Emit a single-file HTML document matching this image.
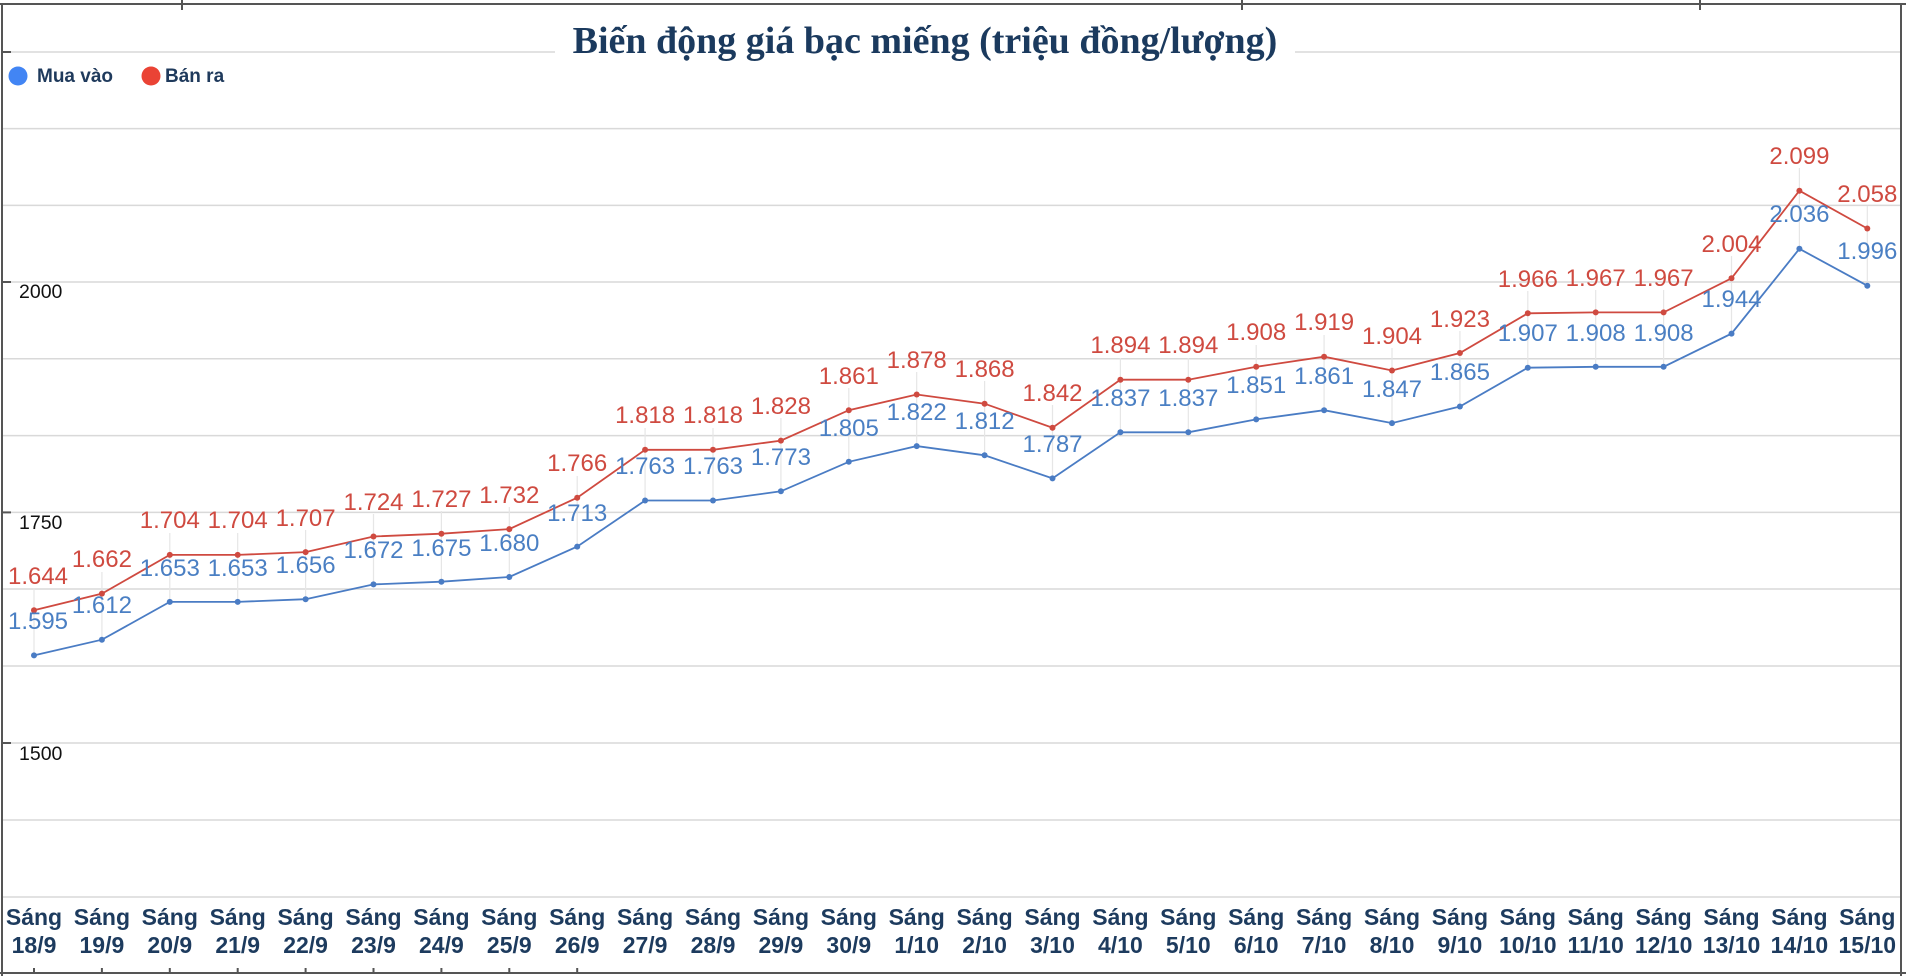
<!DOCTYPE html>
<html><head><meta charset="utf-8"><style>
html,body{margin:0;padding:0;background:#fff;}
svg{display:block;}
text{font-family:"Liberation Sans",Arial,sans-serif;}
.rl{fill:#cf4a40;font-size:24px;text-anchor:middle;}
.bl{fill:#4a7fc3;font-size:24px;text-anchor:middle;}
.xl{fill:#1d3b5e;font-size:23px;font-weight:bold;text-anchor:middle;}
.yl{fill:#111;font-size:19.5px;}
</style></head><body>
<svg width="1906" height="976" viewBox="0 0 1906 976" xmlns="http://www.w3.org/2000/svg">
<rect width="1906" height="976" fill="#fff"/>
<g stroke="#d9d9d9" stroke-width="1.5">
<line x1="3" x2="1901" y1="52" y2="52"/><line x1="3" x2="1901" y1="128.6" y2="128.6"/>
<line x1="3" x2="1901" y1="205.4" y2="205.4"/><line x1="3" x2="1901" y1="282" y2="282"/>
<line x1="3" x2="1901" y1="358.8" y2="358.8"/><line x1="3" x2="1901" y1="435.6" y2="435.6"/>
<line x1="3" x2="1901" y1="512.4" y2="512.4"/><line x1="3" x2="1901" y1="589" y2="589"/>
<line x1="3" x2="1901" y1="666" y2="666"/><line x1="3" x2="1901" y1="743" y2="743"/>
<line x1="3" x2="1901" y1="820" y2="820"/><line x1="3" x2="1901" y1="897" y2="897"/>
</g>
<g stroke="#555" stroke-width="2" fill="none">
<line x1="0" x2="1906" y1="4" y2="4"/>
<line x1="2" x2="2" y1="4" y2="976"/>
<line x1="1901" x2="1901" y1="4" y2="976"/>
<line x1="0" x2="1906" y1="973" y2="973"/>
<line x1="182" x2="182" y1="0" y2="10"/><line x1="1242" x2="1242" y1="0" y2="10"/><line x1="1700" x2="1700" y1="0" y2="10"/>
<line x1="2" x2="11" y1="52" y2="52"/><line x1="2" x2="11" y1="282" y2="282"/><line x1="2" x2="11" y1="512.4" y2="512.4"/><line x1="2" x2="11" y1="743" y2="743"/>
</g>
<g stroke="#e6e6e6" stroke-width="1.2">
<line x1="34" x2="34" y1="588" y2="655"/><line x1="101.9" x2="101.9" y1="572" y2="640"/><line x1="169.8" x2="169.8" y1="533" y2="602"/><line x1="237.7" x2="237.7" y1="533" y2="602"/><line x1="305.6" x2="305.6" y1="530" y2="599"/><line x1="373.5" x2="373.5" y1="514" y2="584"/><line x1="441.4" x2="441.4" y1="511" y2="582"/><line x1="509.3" x2="509.3" y1="507" y2="577"/><line x1="577.2" x2="577.2" y1="476" y2="547"/><line x1="645.1" x2="645.1" y1="428" y2="500"/><line x1="713" x2="713" y1="428" y2="500"/><line x1="780.9" x2="780.9" y1="418" y2="491"/><line x1="848.8" x2="848.8" y1="388" y2="462"/><line x1="916.7" x2="916.7" y1="372" y2="446"/><line x1="984.6" x2="984.6" y1="381" y2="455"/><line x1="1052.5" x2="1052.5" y1="405" y2="478"/><line x1="1120.4" x2="1120.4" y1="358" y2="432"/><line x1="1188.3" x2="1188.3" y1="358" y2="432"/><line x1="1256.2" x2="1256.2" y1="345" y2="419"/><line x1="1324.1" x2="1324.1" y1="335" y2="410"/><line x1="1392" x2="1392" y1="348" y2="423"/><line x1="1459.9" x2="1459.9" y1="331" y2="406"/><line x1="1527.8" x2="1527.8" y1="291" y2="368"/><line x1="1595.7" x2="1595.7" y1="290" y2="367"/><line x1="1663.6" x2="1663.6" y1="290" y2="367"/><line x1="1731.5" x2="1731.5" y1="256" y2="334"/><line x1="1799.4" x2="1799.4" y1="168" y2="249"/><line x1="1867.3" x2="1867.3" y1="206" y2="286"/>
</g>
<polyline fill="none" stroke="#4a7cc4" stroke-width="1.8" points="34,655.4 101.9,639.7 169.8,601.9 237.7,601.9 305.6,599.2 373.5,584.4 441.4,581.7 509.3,577 577.2,546.6 645.1,500.5 713,500.5 780.9,491.3 848.8,461.8 916.7,446.1 984.6,455.3 1052.5,478.4 1120.4,432.3 1188.3,432.3 1256.2,419.4 1324.1,410.2 1392,423.1 1459.9,406.5 1527.8,367.7 1595.7,366.8 1663.6,366.8 1731.5,333.6 1799.4,248.8 1867.3,285.7"/>
<polyline fill="none" stroke="#cf4a40" stroke-width="1.8" points="34,610.2 101.9,593.6 169.8,554.9 237.7,554.9 305.6,552.1 373.5,536.5 441.4,533.7 509.3,529.1 577.2,497.7 645.1,449.8 713,449.8 780.9,440.6 848.8,410.2 916.7,394.5 984.6,403.7 1052.5,427.7 1120.4,379.7 1188.3,379.7 1256.2,366.8 1324.1,356.7 1392,370.5 1459.9,353 1527.8,313.3 1595.7,312.4 1663.6,312.4 1731.5,278.3 1799.4,190.7 1867.3,228.5"/>
<g fill="#4a7cc4">
<circle cx="34" cy="655.4" r="3"/><circle cx="101.9" cy="639.7" r="3"/><circle cx="169.8" cy="601.9" r="3"/><circle cx="237.7" cy="601.9" r="3"/><circle cx="305.6" cy="599.2" r="3"/><circle cx="373.5" cy="584.4" r="3"/><circle cx="441.4" cy="581.7" r="3"/><circle cx="509.3" cy="577" r="3"/><circle cx="577.2" cy="546.6" r="3"/><circle cx="645.1" cy="500.5" r="3"/><circle cx="713" cy="500.5" r="3"/><circle cx="780.9" cy="491.3" r="3"/><circle cx="848.8" cy="461.8" r="3"/><circle cx="916.7" cy="446.1" r="3"/><circle cx="984.6" cy="455.3" r="3"/><circle cx="1052.5" cy="478.4" r="3"/><circle cx="1120.4" cy="432.3" r="3"/><circle cx="1188.3" cy="432.3" r="3"/><circle cx="1256.2" cy="419.4" r="3"/><circle cx="1324.1" cy="410.2" r="3"/><circle cx="1392" cy="423.1" r="3"/><circle cx="1459.9" cy="406.5" r="3"/><circle cx="1527.8" cy="367.7" r="3"/><circle cx="1595.7" cy="366.8" r="3"/><circle cx="1663.6" cy="366.8" r="3"/><circle cx="1731.5" cy="333.6" r="3"/><circle cx="1799.4" cy="248.8" r="3"/><circle cx="1867.3" cy="285.7" r="3"/>
</g>
<g fill="#cf4a40">
<circle cx="34" cy="610.2" r="3"/><circle cx="101.9" cy="593.6" r="3"/><circle cx="169.8" cy="554.9" r="3"/><circle cx="237.7" cy="554.9" r="3"/><circle cx="305.6" cy="552.1" r="3"/><circle cx="373.5" cy="536.5" r="3"/><circle cx="441.4" cy="533.7" r="3"/><circle cx="509.3" cy="529.1" r="3"/><circle cx="577.2" cy="497.7" r="3"/><circle cx="645.1" cy="449.8" r="3"/><circle cx="713" cy="449.8" r="3"/><circle cx="780.9" cy="440.6" r="3"/><circle cx="848.8" cy="410.2" r="3"/><circle cx="916.7" cy="394.5" r="3"/><circle cx="984.6" cy="403.7" r="3"/><circle cx="1052.5" cy="427.7" r="3"/><circle cx="1120.4" cy="379.7" r="3"/><circle cx="1188.3" cy="379.7" r="3"/><circle cx="1256.2" cy="366.8" r="3"/><circle cx="1324.1" cy="356.7" r="3"/><circle cx="1392" cy="370.5" r="3"/><circle cx="1459.9" cy="353" r="3"/><circle cx="1527.8" cy="313.3" r="3"/><circle cx="1595.7" cy="312.4" r="3"/><circle cx="1663.6" cy="312.4" r="3"/><circle cx="1731.5" cy="278.3" r="3"/><circle cx="1799.4" cy="190.7" r="3"/><circle cx="1867.3" cy="228.5" r="3"/>
</g>
<g>
<text class="bl" x="38" y="629">1.595</text><text class="bl" x="101.9" y="613">1.612</text><text class="bl" x="169.8" y="576">1.653</text><text class="bl" x="237.7" y="576">1.653</text><text class="bl" x="305.6" y="573">1.656</text><text class="bl" x="373.5" y="558">1.672</text><text class="bl" x="441.4" y="556">1.675</text><text class="bl" x="509.3" y="551">1.680</text><text class="bl" x="577.2" y="521">1.713</text><text class="bl" x="645.1" y="474">1.763</text><text class="bl" x="713" y="474">1.763</text><text class="bl" x="780.9" y="465">1.773</text><text class="bl" x="848.8" y="436">1.805</text><text class="bl" x="916.7" y="420">1.822</text><text class="bl" x="984.6" y="429">1.812</text><text class="bl" x="1052.5" y="452">1.787</text><text class="bl" x="1120.4" y="406">1.837</text><text class="bl" x="1188.3" y="406">1.837</text><text class="bl" x="1256.2" y="393">1.851</text><text class="bl" x="1324.1" y="384">1.861</text><text class="bl" x="1392" y="397">1.847</text><text class="bl" x="1459.9" y="380">1.865</text><text class="bl" x="1527.8" y="341">1.907</text><text class="bl" x="1595.7" y="341">1.908</text><text class="bl" x="1663.6" y="341">1.908</text><text class="bl" x="1731.5" y="307">1.944</text><text class="bl" x="1799.4" y="222">2.036</text><text class="bl" x="1867.3" y="259">1.996</text>
</g>
<g>
<text class="rl" x="38" y="584">1.644</text><text class="rl" x="101.9" y="567">1.662</text><text class="rl" x="169.8" y="528">1.704</text><text class="rl" x="237.7" y="528">1.704</text><text class="rl" x="305.6" y="526">1.707</text><text class="rl" x="373.5" y="510">1.724</text><text class="rl" x="441.4" y="507">1.727</text><text class="rl" x="509.3" y="503">1.732</text><text class="rl" x="577.2" y="471">1.766</text><text class="rl" x="645.1" y="423">1.818</text><text class="rl" x="713" y="423">1.818</text><text class="rl" x="780.9" y="414">1.828</text><text class="rl" x="848.8" y="384">1.861</text><text class="rl" x="916.7" y="368">1.878</text><text class="rl" x="984.6" y="377">1.868</text><text class="rl" x="1052.5" y="401">1.842</text><text class="rl" x="1120.4" y="353">1.894</text><text class="rl" x="1188.3" y="353">1.894</text><text class="rl" x="1256.2" y="340">1.908</text><text class="rl" x="1324.1" y="330">1.919</text><text class="rl" x="1392" y="344">1.904</text><text class="rl" x="1459.9" y="327">1.923</text><text class="rl" x="1527.8" y="287">1.966</text><text class="rl" x="1595.7" y="286">1.967</text><text class="rl" x="1663.6" y="286">1.967</text><text class="rl" x="1731.5" y="252">2.004</text><text class="rl" x="1799.4" y="164">2.099</text><text class="rl" x="1867.3" y="202">2.058</text>
</g>
<text class="yl" x="19" y="298">2000</text>
<text class="yl" x="19" y="529">1750</text>
<text class="yl" x="19" y="760">1500</text>
<rect x="555" y="20" width="740" height="42" fill="#fff"/>
<text x="925" y="53" text-anchor="middle" style="font-family:'Liberation Serif',serif;font-weight:bold;font-size:38px;fill:#1b3a5e;">Biến động giá bạc miếng (triệu đồng/lượng)</text>
<circle cx="18" cy="76" r="9.5" fill="#4285f4"/>
<text x="37" y="82" style="font-size:19px;font-weight:bold;fill:#1f3a5c;">Mua vào</text>
<circle cx="151" cy="76" r="9.5" fill="#ea4335"/>
<text x="165" y="82" style="font-size:19px;font-weight:bold;fill:#1f3a5c;">Bán ra</text>
<g>
<text class="xl" x="34" y="925">Sáng</text><text class="xl" x="34" y="953">18/9</text>
<text class="xl" x="101.9" y="925">Sáng</text><text class="xl" x="101.9" y="953">19/9</text>
<text class="xl" x="169.8" y="925">Sáng</text><text class="xl" x="169.8" y="953">20/9</text>
<text class="xl" x="237.7" y="925">Sáng</text><text class="xl" x="237.7" y="953">21/9</text>
<text class="xl" x="305.6" y="925">Sáng</text><text class="xl" x="305.6" y="953">22/9</text>
<text class="xl" x="373.5" y="925">Sáng</text><text class="xl" x="373.5" y="953">23/9</text>
<text class="xl" x="441.4" y="925">Sáng</text><text class="xl" x="441.4" y="953">24/9</text>
<text class="xl" x="509.3" y="925">Sáng</text><text class="xl" x="509.3" y="953">25/9</text>
<text class="xl" x="577.2" y="925">Sáng</text><text class="xl" x="577.2" y="953">26/9</text>
<text class="xl" x="645.1" y="925">Sáng</text><text class="xl" x="645.1" y="953">27/9</text>
<text class="xl" x="713" y="925">Sáng</text><text class="xl" x="713" y="953">28/9</text>
<text class="xl" x="780.9" y="925">Sáng</text><text class="xl" x="780.9" y="953">29/9</text>
<text class="xl" x="848.8" y="925">Sáng</text><text class="xl" x="848.8" y="953">30/9</text>
<text class="xl" x="916.7" y="925">Sáng</text><text class="xl" x="916.7" y="953">1/10</text>
<text class="xl" x="984.6" y="925">Sáng</text><text class="xl" x="984.6" y="953">2/10</text>
<text class="xl" x="1052.5" y="925">Sáng</text><text class="xl" x="1052.5" y="953">3/10</text>
<text class="xl" x="1120.4" y="925">Sáng</text><text class="xl" x="1120.4" y="953">4/10</text>
<text class="xl" x="1188.3" y="925">Sáng</text><text class="xl" x="1188.3" y="953">5/10</text>
<text class="xl" x="1256.2" y="925">Sáng</text><text class="xl" x="1256.2" y="953">6/10</text>
<text class="xl" x="1324.1" y="925">Sáng</text><text class="xl" x="1324.1" y="953">7/10</text>
<text class="xl" x="1392" y="925">Sáng</text><text class="xl" x="1392" y="953">8/10</text>
<text class="xl" x="1459.9" y="925">Sáng</text><text class="xl" x="1459.9" y="953">9/10</text>
<text class="xl" x="1527.8" y="925">Sáng</text><text class="xl" x="1527.8" y="953">10/10</text>
<text class="xl" x="1595.7" y="925">Sáng</text><text class="xl" x="1595.7" y="953">11/10</text>
<text class="xl" x="1663.6" y="925">Sáng</text><text class="xl" x="1663.6" y="953">12/10</text>
<text class="xl" x="1731.5" y="925">Sáng</text><text class="xl" x="1731.5" y="953">13/10</text>
<text class="xl" x="1799.4" y="925">Sáng</text><text class="xl" x="1799.4" y="953">14/10</text>
<text class="xl" x="1867.3" y="925">Sáng</text><text class="xl" x="1867.3" y="953">15/10</text>
</g>
<g stroke="#555" stroke-width="2">
<line x1="34" x2="34" y1="968" y2="973"/><line x1="101.9" x2="101.9" y1="968" y2="973"/><line x1="169.8" x2="169.8" y1="968" y2="973"/><line x1="237.7" x2="237.7" y1="968" y2="973"/><line x1="305.6" x2="305.6" y1="968" y2="973"/><line x1="373.5" x2="373.5" y1="968" y2="973"/><line x1="441.4" x2="441.4" y1="968" y2="973"/><line x1="509.3" x2="509.3" y1="968" y2="973"/><line x1="577.2" x2="577.2" y1="968" y2="973"/>
</g>
</svg>
</body></html>
